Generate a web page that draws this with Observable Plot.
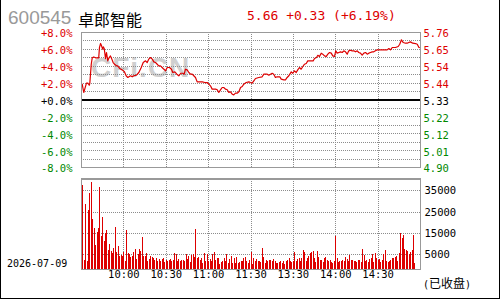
<!DOCTYPE html>
<html>
<head>
<meta charset="utf-8">
<script src="https://cdn.jsdelivr.net/npm/d3@7"></script>
<script src="https://cdn.jsdelivr.net/npm/@observablehq/plot@0.6"></script>
<style>
  html, body { margin: 0; padding: 0; background: #fff; }
  #wrap { position: relative; width: 500px; height: 300px; overflow: hidden; background: #fff; }
  .abs { position: absolute; white-space: nowrap; line-height: 1; }
  #border { position: absolute; left: 0; top: 0; width: 500px; height: 299px; box-sizing: border-box;
            border-left: 1px solid #000; border-right: 1px solid #000; border-bottom: 1px solid #000; }
</style>
</head>
<body>
<div id="wrap">
  <div id="border"></div>
  <div class="abs" style="left:8px;top:7px;font:19px 'Liberation Sans',Arial,sans-serif;color:#999;">600545</div>
  <div class="abs" style="left:78px;top:7px;font:16px 'Noto Sans CJK SC',sans-serif;color:#000;">卓郎智能</div>
  <div class="abs" style="left:247px;top:8px;font:13px 'DejaVu Sans Mono',monospace;color:#dd0000;">5.66 +0.33 (+6.19%)</div>
  <div class="abs" style="left:91px;top:52px;font:bold 28px 'Liberation Sans',Arial,sans-serif;color:#cfcfcf;letter-spacing:1px;">CFi.CN</div>
  <div id="price" class="abs" style="left:0;top:0;"></div>
  <div id="vol" class="abs" style="left:0;top:175px;"></div>
  <div class="abs" style="left:7px;top:258px;font:10px 'DejaVu Sans Mono',monospace;color:#000;">2026-07-09</div>
  <div class="abs" style="left:423px;top:274px;font:10px 'DejaVu Sans Mono','Noto Sans CJK SC',monospace;color:#000;">(<span style="font:12px 'Noto Sans CJK SC',sans-serif;">已收盘</span>)</div>
</div>
<script>
// ---- data ----
const priceMin = [0.5,1.6,2.3,3.5,4.5,5.5,5.9,6.9,7.6,8.7,9.9,11.1,12.2,12.7,13.5,14.2,14.9,15.4,16.1,17.0,17.7,18.6,19.6,20.5,21.5,22.4,23.4,24.8,25.7,27.1,28.8,30.4,31.6,32.8,34.7,35.9,37.0,38.9,40.6,42.3,43.7,45.3,46.5,47.6,48.8,50.1,51.2,52.4,53.6,54.7,55.9,57.8,59.5,60.7,62.3,63.7,64.6,66.1,67.5,68.9,70.3,71.7,72.7,73.6,74.8,76.0,77.2,78.4,79.5,80.7,81.9,83.0,85.5,87.3,89.0,90.1,91.3,92.5,94.9,96.1,97.2,98.4,99.6,100.7,101.9,103.2,104.3,105.5,106.7,107.8,109.0,110.2,111.4,112.6,113.8,114.9,116.6,118.5,119.6,120.8,122.0,123.2,125.5,127.9,129.1,131.5,132.6,133.8,135.0,136.1,137.3,138.5,140.4,141.4,143.2,144.4,145.6,146.8,147.5,148.5,149.6,150.8,152.0,153.1,154.3,155.5,156.7,157.9,159.1,160.2,162.1,164.0,165.0,166.4,167.3,168.5,169.7,170.8,172.0,173.2,174.4,175.6,176.8,177.9,179.1,180.0,181.0,182.2,183.4,184.6,185.7,186.9,188.1,189.2,190.4,191.6,192.8,194.0,195.2,196.3,197.5,198.7,199.9,201.1,202.3,203.4,204.6,205.8,206.9,208.1,209.3,211.7,214.0,216.4,217.6,218.8,220.0,222.3,224.2,225.3,226.5,227.8,229.4,230.6,231.7,232.9,234.5,236.5,237.7,238.9,240];
const pricePct = [1.87,0.89,1.28,2.0,2.0,1.75,2.0,4.24,5.0,5.1,5.0,5.0,5.0,6.2,6.7,6.42,6.02,6.3,6.1,4.9,5.63,4.64,5.03,5.23,4.84,4.44,4.24,4.05,4.05,3.73,3.57,3.34,2.87,2.67,2.87,2.75,2.87,2.94,3.26,3.85,4.44,4.64,4.44,4.84,5.03,4.84,4.52,4.44,4.24,4.05,4.05,3.73,3.46,3.85,3.85,3.65,3.26,3.34,3.06,2.87,3.17,3.17,3.06,3.65,3.57,3.26,3.06,3.06,2.87,2.67,2.15,2.15,2.15,2.07,2.07,1.88,1.68,1.29,1.29,1.21,0.89,1.2,1.48,1.48,1.29,1.21,0.89,0.97,0.69,0.61,0.81,0.81,0.97,1.48,1.6,1.88,2.07,2.15,2.07,1.99,2.27,2.55,2.67,2.75,3.06,3.06,2.94,3.06,3.17,3.06,2.67,2.75,2.75,2.47,2.39,2.39,2.67,2.87,3.06,3.34,3.17,3.46,3.26,3.57,3.85,3.65,3.97,4.24,4.32,4.64,4.64,4.64,4.92,5.03,5.3,5.15,5.55,5.43,5.23,5.15,5.43,5.63,5.55,5.23,5.15,5.83,5.55,5.63,5.71,5.63,5.83,5.71,5.43,5.83,5.9,5.83,5.83,5.71,5.83,5.63,5.55,5.31,5.55,5.63,5.43,5.55,5.63,5.71,5.71,5.83,5.94,5.94,5.94,5.94,6.1,5.94,6.22,6.22,6.34,6.61,7.13,6.81,6.73,6.73,6.81,6.89,6.73,6.69,6.61,6.22,6.19];
// volume per minute (thousands of lots), index = trading minute 0..240
const volK = [3.3,37.5,2.5,28.4,2.0,25.8,33.6,38.8,21.6,17.2,
  9.4,15.3,17.2,36.4,13.6,22.3,11.3,14.8,16.4,7.0,
  9.7,6.6,5.5,7.8,17.7,6.2,8.9,4.2,4.7,4.2,
  6.3,2.0,16.4,5.5,5.2,3.6,4.2,5.9,7.5,3.0,
  5.0,7.5,6.6,13.1,4.2,4.2,5.5,1.9,3.0,4.1,
  3.6,3.1,2.5,3.5,2.0,3.0,1.8,2.8,3.5,1.5,
  2.5,1.7,2.2,3.0,1.7,2.5,5.6,5.2,2.0,3.0,
  2.0,2.3,2.3,2.0,5.2,2.8,4.4,1.4,4.8,5.2,
  3.9,16.9,3.3,3.9,2.5,3.3,0.9,5.6,2.0,5.2,
  1.7,2.8,2.0,5.2,6.1,2.5,3.3,3.3,0.5,1.4,
  2.0,3.3,2.0,5.2,0.9,3.0,4.1,0.9,3.3,0.9,
  3.6,0.9,1.5,1.7,2.0,3.3,3.9,1.7,0.9,2.5,
  6.1,0.5,3.1,1.9,2.7,1.9,2.0,1.5,7.8,3.6,
  1.1,2.3,1.9,2.2,2.2,1.9,2.7,2.0,1.1,1.1,
  1.5,1.9,1.1,2.0,0.5,1.9,2.3,3.1,1.9,1.5,
  2.0,5.9,2.0,2.6,3.1,2.0,3.5,7.0,5.9,2.0,
  3.3,4.2,5.5,5.9,6.6,3.1,1.5,6.6,3.6,2.3,
  2.3,1.5,3.1,3.9,2.3,1.9,2.3,1.5,1.0,1.9,
  13.6,3.3,1.5,1.9,1.9,2.3,2.0,3.9,2.8,2.0,
  4.7,2.3,2.3,1.9,1.9,1.5,2.3,2.3,1.5,7.5,
  4.7,1.9,2.3,1.5,2.8,3.1,5.0,1.5,5.5,3.1,
  2.3,2.8,1.5,2.3,5.0,7.0,1.9,1.5,1.9,2.3,
  3.1,3.3,3.9,4.2,1.9,5.5,14.8,12.5,14.1,7.5,
  7.0,6.6,5.0,5.9,7.0,14.1,1.1,null,null,null,
  25.8];

const pctTicks = [8,6,4,2,0,-2,-4,-6,-8];
const pctLabels = ["+8.0%","+6.0%","+4.0%","+2.0%","+0.0%","-2.0%","-4.0%","-6.0%","-8.0%"];
const priceLabels = ["5.76","5.65","5.54","5.44","5.33","5.22","5.12","5.01","4.90"];
const pctGrid = [7,6,5,4,3,2,1,-1,-2,-3,-4,-5,-6,-7];
const timeTicks = [30,60,90,120,150,180,210];
const timeLabels = ["10:00","10:30","11:00","11:30","13:30","14:00","14:30"];
const volTicks = [35000,25000,15000,5000];
const volDomain = [-1890, 40530];

// ---- build ----
const RED = "#dd0000", GREEN = "#008800", GRID = "#8c8c8c", FRAME = "#999";
const price = priceMin.map((m, i) => ({m, p: pricePct[i]}));
const vol = volK.map((v, m) => ({m, v: v == null ? null : v * 1000})).filter(d => d.v != null);
const colorOf = d => d > 0 ? RED : d < 0 ? GREEN : "#000";
const fontStyle = {background: "transparent", fontFamily: "'DejaVu Sans Mono', monospace", fontSize: "10.5px", overflow: "visible"};

const p1 = Plot.plot({
  width: 500, height: 170,
  marginLeft: 81, marginRight: 80, marginTop: 32, marginBottom: 3,
  x: {domain: [0, 240], axis: null},
  y: {domain: [-8, 8], axis: null},
  style: fontStyle,
  marks: [
    Plot.ruleY(pctGrid, {y: d => d, stroke: GRID, strokeDasharray: "1,1", shapeRendering: "crispEdges"}),
    Plot.ruleX(timeTicks, {x: d => d, stroke: GRID, strokeDasharray: "1,1", shapeRendering: "crispEdges"}),
    Plot.ruleY([0], {y: d => d, stroke: "#000", strokeWidth: 1.5, shapeRendering: "crispEdges"}),
    Plot.line(price, {x: "m", y: "p", stroke: RED, strokeWidth: 1.2}),
    Plot.frame({stroke: FRAME, strokeWidth: 1.5, shapeRendering: "crispEdges"}),
    Plot.text(pctTicks, {x: () => 0, y: d => d, text: (d, i) => pctLabels[i], fill: colorOf, textAnchor: "end", dx: -9, dy: 1.5}),
    Plot.text(pctTicks, {x: () => 240, y: d => d, text: (d, i) => priceLabels[i], fill: colorOf, textAnchor: "start", dx: 3, dy: 1.5})
  ]
});
document.getElementById("price").append(p1);

const p2 = Plot.plot({
  width: 500, height: 125,
  marginLeft: 81, marginRight: 80, marginTop: 3.5, marginBottom: 31,
  x: {domain: [0, 240], axis: null},
  y: {domain: volDomain, axis: null},
  style: fontStyle,
  marks: [
    Plot.ruleY(volTicks, {y: d => d, stroke: GRID, strokeDasharray: "1,1", shapeRendering: "crispEdges"}),
    Plot.ruleX(timeTicks, {x: d => d, stroke: GRID, strokeDasharray: "1,1", shapeRendering: "crispEdges"}),
    Plot.ruleX(vol, {x: "m", y1: () => volDomain[0], y2: "v", stroke: RED, strokeWidth: 1, shapeRendering: "crispEdges"}),
    Plot.frame({stroke: FRAME, strokeWidth: 1.5, shapeRendering: "crispEdges"}),
    Plot.text(volTicks, {x: () => 240, y: d => d, text: d => String(d), fill: "#000", textAnchor: "start", dx: 4}),
    Plot.text(timeTicks, {x: d => d, frameAnchor: "bottom", dy: 8, text: (d, i) => timeLabels[i], fill: "#000"})
  ]
});
document.getElementById("vol").append(p2);
</script>
</body>
</html>
